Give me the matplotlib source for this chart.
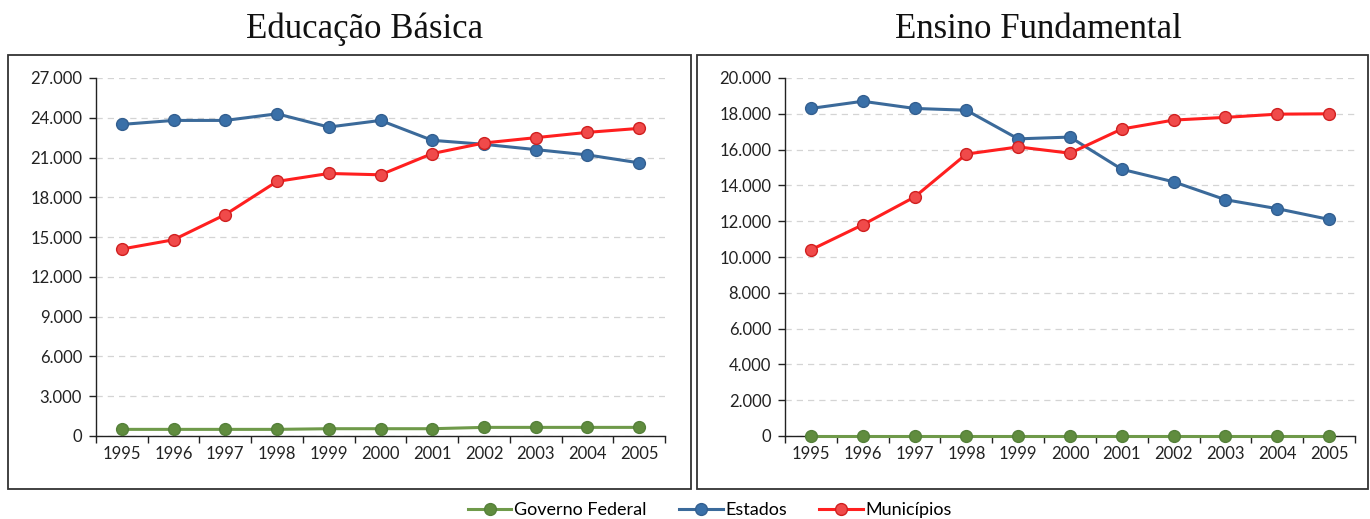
import numpy as np
import matplotlib.pyplot as plt
from matplotlib.patches import Rectangle
from matplotlib.ticker import FuncFormatter, FixedLocator

anos = ["1995", "1996", "1997", "1998", "1999", "2000", "2001", "2002", "2003", "2004", "2005"]

# Educação Básica
basica_federal = [500, 500, 500, 500, 550, 550, 550, 650, 650, 650, 650]
basica_estados = [23500, 23800, 23800, 24300, 23300, 23800, 22300, 22000, 21600, 21200, 20600]
basica_municipios = [14100, 14800, 16700, 19200, 19800, 19700, 21300, 22100, 22500, 22900, 23200]

# Ensino Fundamental
fund_federal = [0, 0, 0, 0, 0, 0, 0, 0, 0, 0, 0]
fund_estados = [18300, 18700, 18300, 18200, 16600, 16700, 14900, 14200, 13200, 12700, 12100]
fund_municipios = [10400, 11800, 13350, 15750, 16150, 15800, 17150, 17650, 17800, 17980, 18000]

series_nomes = ["Governo Federal", "Estados", "Municípios"]
cor_linha = ["#6f9a4a", "#3b6a9a", "#ff1f1f"]
cor_marca = ["#608c3e", "#3a70a8", "#f04a4a"]
cor_borda = ["#55803a", "#335f90", "#d02020"]

plt.rcParams['font.family'] = ['Lato', 'DejaVu Sans']

fig = plt.figure(figsize=(13.7, 5.19), dpi=100)

def milhar(v, pos):
    return "{:,.0f}".format(v).replace(",", ".")

def painel(ax, dados, ymax, passo, titulo, caixa, tx):
    x = np.arange(len(anos))
    linhas = []
    for i, valores in enumerate(dados):
        l, = ax.plot(x, valores, color=cor_linha[i], lw=2.2, marker="o", ms=8.5,
                     mfc=cor_marca[i], mec=cor_borda[i], mew=1.0, zorder=3 + i,
                     label=series_nomes[i], clip_on=False)
        linhas.append(l)
    ax.set_xlim(-0.5, len(anos) - 0.5)
    ax.set_ylim(0, ymax)
    ax.set_yticks(np.arange(0, ymax + 1, passo))
    ax.yaxis.set_major_formatter(FuncFormatter(milhar))
    # ticks on category boundaries, labels on category centres
    ax.xaxis.set_major_locator(FixedLocator(np.arange(-0.5, len(anos), 1.0)))
    ax.xaxis.set_major_formatter(FuncFormatter(lambda v, p: ""))
    ax.xaxis.set_minor_locator(FixedLocator(x))
    ax.set_xticklabels(anos, minor=True)
    ax.tick_params(axis="x", which="major", length=5, width=1, color="#222222", direction="out")
    ax.tick_params(axis="x", which="minor", length=0, labelsize=12, pad=7, labelcolor="#222222")
    ax.tick_params(axis="y", length=5, width=1, color="#222222", labelsize=12,
                   labelcolor="#222222", pad=5)
    ax.grid(axis="y", color="#d4d4d4", ls=(0, (5, 4)), lw=0.9)
    ax.set_axisbelow(True)
    for s in ["top", "right"]:
        ax.spines[s].set_visible(False)
    for s in ["left", "bottom"]:
        ax.spines[s].set_color("#222222")
        ax.spines[s].set_linewidth(1.0)
    fig.patches.append(Rectangle(caixa[:2], caixa[2], caixa[3], transform=fig.transFigure,
                                 fill=False, ec="#333333", lw=1.3, zorder=0))
    fig.text(tx, 0.943, titulo, ha="center", va="center", fontsize=25,
             family="Liberation Serif", color="#111111")
    return linhas

W, H = 1370.0, 519.0
ax1 = fig.add_axes([96 / W, 1 - 436 / H, (665 - 96) / W, (436 - 78) / H])
ax2 = fig.add_axes([785 / W, 1 - 436 / H, (1355 - 785) / W, (436 - 78) / H])

linhas = painel(ax1, [basica_federal, basica_estados, basica_municipios], 27000, 3000,
                "Educação Básica", (8 / W, 1 - 489 / H, 683 / W, 434 / H), 365 / W)
painel(ax2, [fund_federal, fund_estados, fund_municipios], 20000, 2000,
       "Ensino Fundamental", (697 / W, 1 - 489 / H, 671 / W, 434 / H), 1038 / W)

fig.legend(linhas, series_nomes, loc="center", bbox_to_anchor=(710 / W, 1 - 510 / H),
           ncol=3, frameon=False, fontsize=13, handlelength=2.4, handletextpad=0.15,
           columnspacing=1.8, borderaxespad=0)

fig.savefig("out.png", dpi=100)
